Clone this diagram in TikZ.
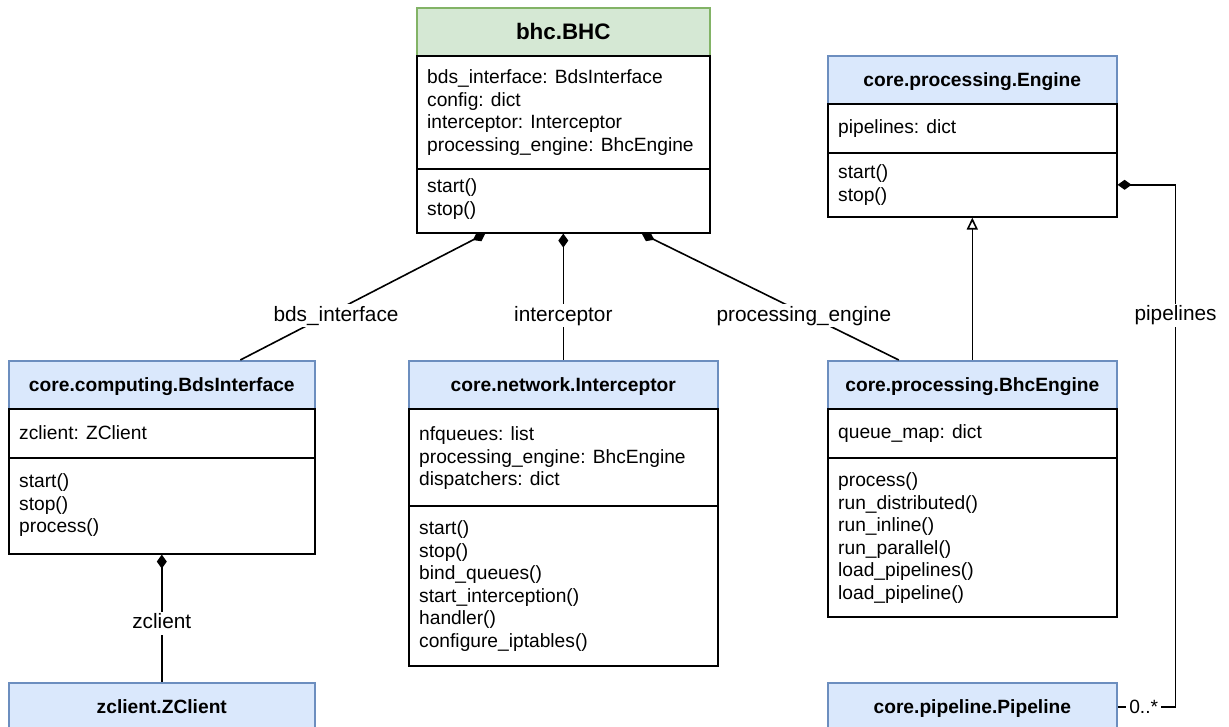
\documentclass[tikz,border=0pt]{standalone}
\usepackage{fontspec}
\setmainfont{Liberation Sans}
\usetikzlibrary{arrows.meta}

\definecolor{blueFill}{HTML}{DAE8FC}
\definecolor{blueLine}{HTML}{6C8EBF}
\definecolor{greenFill}{HTML}{D5E8D4}
\definecolor{greenLine}{HTML}{82B366}

\tikzset{
  section/.style={draw=black, fill=white, line width=1.6pt, anchor=north west,
    inner sep=0pt, minimum width=#1},
  classhead/.style={draw=blueLine, fill=blueFill, line width=1.6pt, anchor=north west,
    inner sep=0pt, minimum width=#1, minimum height=48pt,
    font=\bfseries\fontsize{19.2}{23}\selectfont, text height=13.7pt, text depth=0pt},
  mainhead/.style={classhead=#1, draw=greenLine, fill=greenFill,
    font=\bfseries\fontsize{22.4}{27}\selectfont, text height=16pt},
  rowtext/.style={anchor=base west, inner sep=0pt, font=\fontsize{19.2}{23}\selectfont},
  lbl/.style={fill=white, inner sep=2pt, font=\fontsize{20.8}{25}\selectfont,
    text height=14.9pt, text depth=4.3pt},
  mult/.style={fill=white, inner sep=3pt, font=\fontsize{19.2}{23}\selectfont,
    text height=13.7pt, text depth=0pt},
  link/.style={line width=1.6pt, draw=black},
  owns/.style={link, {Diamond[length=14pt,width=10pt]}-},
  extends/.style={link, -{Triangle[open,length=12pt,width=11pt]}},
}

\begin{document}
\begin{tikzpicture}[x=1pt,y=-1pt]
\useasboundingbox (0,0) rectangle (1229,727);
\clip (0,0) rectangle (1229,727);

% ---- bhc.BHC ----
\node[mainhead=293] (bhc) at (416,7) {bhc.BHC};
\node[section=293, minimum height=113] (bhc-a) at (416,55) {};
\node[section=293, minimum height=64] (bhc-m) at (416,168) {};
\foreach [count=\i] \t in {{bds\_interface: BdsInterface},{config: dict},{interceptor: Interceptor},{processing\_engine: BhcEngine}}
  \node[rowtext] (bhc-a\i) at (427,{83.5+(\i-1)*22.6}) {\t};
\foreach [count=\i] \t in {{start()},{stop()}}
  \node[rowtext] (bhc-m\i) at (427,{192.5+(\i-1)*22.6}) {\t};

% ---- core.processing.Engine ----
\node[classhead=289] (eng) at (827,55) {core.processing.Engine};
\node[section=289, minimum height=49] (eng-a) at (827,103) {};
\node[section=289, minimum height=64] (eng-m) at (827,152) {};
\node[rowtext] (eng-a1) at (838,133.5) {pipelines: dict};
\foreach [count=\i] \t in {{start()},{stop()}}
  \node[rowtext] (eng-m\i) at (838,{178.5+(\i-1)*22.6}) {\t};

% ---- core.computing.BdsInterface ----
\node[classhead=306] (bds) at (8,360) {core.computing.BdsInterface};
\node[section=306, minimum height=49] (bds-a) at (8,408) {};
\node[section=306, minimum height=96] (bds-m) at (8,457) {};
\node[rowtext] (bds-a1) at (19,439.5) {zclient: ZClient};
\foreach [count=\i] \t in {{start()},{stop()},{process()}}
  \node[rowtext] (bds-m\i) at (19,{487.5+(\i-1)*22.6}) {\t};

% ---- core.network.Interceptor ----
\node[classhead=309] (icp) at (408,360) {core.network.Interceptor};
\node[section=309, minimum height=97] (icp-a) at (408,408) {};
\node[section=309, minimum height=160] (icp-m) at (408,505) {};
\foreach [count=\i] \t in {{nfqueues: list},{processing\_engine: BhcEngine},{dispatchers: dict}}
  \node[rowtext] (icp-a\i) at (419,{440.5+(\i-1)*22.6}) {\t};
\foreach [count=\i] \t in {{start()},{stop()},{bind\_queues()},{start\_interception()},{handler()},{configure\_iptables()}}
  \node[rowtext] (icp-m\i) at (419,{534.5+(\i-1)*22.6}) {\t};

% ---- core.processing.BhcEngine ----
\node[classhead=289] (beng) at (827,360) {core.processing.BhcEngine};
\node[section=289, minimum height=49] (beng-a) at (827,408) {};
\node[section=289, minimum height=159] (beng-m) at (827,457) {};
\node[rowtext] (beng-a1) at (838,438.5) {queue\_map: dict};
\foreach [count=\i] \t in {{process()},{run\_distributed()},{run\_inline()},{run\_parallel()},{load\_pipelines()},{load\_pipeline()}}
  \node[rowtext] (beng-m\i) at (838,{486.5+(\i-1)*22.5}) {\t};

% ---- classes continuing below ----
\node[classhead=306] (zc) at (8,682) {zclient.ZClient};
\node[classhead=289] (pipe) at (827,682) {core.pipeline.Pipeline};

% ---- relations ----
\draw[owns] ([xshift=-78pt]bhc-m.south) -- node[lbl, pos=0.65, xshift=10pt] (lbl-bds) {bds\_interface} ([xshift=78.5pt]bds.north);
\draw[owns] (bhc-m.south) -- node[lbl, pos=0.65] (lbl-icp) {interceptor} (icp.north);
\draw[owns] ([xshift=78.5pt]bhc-m.south) -- node[lbl, pos=0.65, xshift=-5pt] (lbl-beng) {processing\_engine} ([xshift=-73.5pt]beng.north);
\draw[owns] (bds-m.south) -- node[lbl, pos=0.54] (lbl-zc) {zclient} (zc.north);
\draw[extends] (beng.north) -- (eng-m.south);
\draw[owns] (eng-m.east) -- ++(58,0) |- node[lbl, pos=0.125] (lbl-pipe) {pipelines}
  node[mult, pos=0.775] (lbl-mult) {0..*} (pipe.east);
\end{tikzpicture}
\end{document}
